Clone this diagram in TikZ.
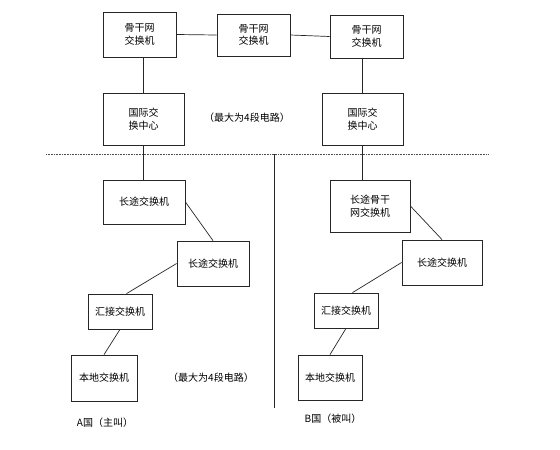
\documentclass[tikz,border=0pt]{standalone}
\usepackage{fontspec}
\newfontfamily\cjk{Noto Sans CJK SC}
\begin{document}
\begin{tikzpicture}[x=1pt,y=-1pt,
  box/.style={draw=black!85,line width=0.8pt,rectangle,align=center,inner sep=0pt,font=\cjk\fontsize{10}{12.5}\selectfont},
  conn/.style={draw=black!85,line width=0.7pt},
  lbl/.style={font=\cjk\fontsize{10}{12.5}\selectfont,inner sep=0pt}]
\useasboundingbox (0,0) rectangle (560,450);
% top backbone
\node[box,minimum width=73pt,minimum height=45pt] (b1) at (139.5,34.5) {骨干网\\交换机};
\node[box,minimum width=73pt,minimum height=42pt] (b2) at (253.5,35) {骨干网\\交换机};
\node[box,minimum width=73pt,minimum height=43pt] (b3) at (366.5,36.5) {骨干网\\交换机};
% international centres
\node[box,minimum width=81pt,minimum height=52pt] (ic1) at (143.5,119) {国际交\\换中心};
\node[box,minimum width=81pt,minimum height=52pt] (ic2) at (362.5,119) {国际交\\换中心};
\node[lbl] (t1) at (247,118) {（最大为4段电路）};
% separator lines
\coordinate (dl) at (46,154);
\coordinate (dr) at (489,154);
\draw[black!70,densely dotted,line width=0.6pt] (dl) -- (dr);
\coordinate (vt) at (274,154);
\coordinate (vb) at (274,408);
\draw[conn] (vt) -- (vb);
% country A
\node[box,minimum width=82pt,minimum height=44pt] (a1) at (144,202) {长途交换机};
\node[box,minimum width=72pt,minimum height=45pt] (a2) at (213,263.5) {长途交换机};
\node[box,minimum width=64pt,minimum height=35pt] (a3) at (120,311.5) {汇接交换机};
\node[box,minimum width=66pt,minimum height=46pt] (a4) at (104,378) {本地交换机};
\node[lbl] (t2) at (211,378) {（最大为4段电路）};
\node[lbl] (ta) at (105,423) {A国（主叫）};
% country B
\node[box,minimum width=80pt,minimum height=52pt] (c1) at (370,206) {长途骨干\\网交换机};
\node[box,minimum width=80pt,minimum height=45pt] (c2) at (442,262.5) {长途交换机};
\node[box,minimum width=64pt,minimum height=35pt] (c3) at (346,310.5) {汇接交换机};
\node[box,minimum width=64pt,minimum height=45pt] (c4) at (330,377.5) {本地交换机};
\node[lbl] (tb) at (333,419) {B国（被叫）};
% connectors
\draw[conn] (b1.east) -- (b2.west);
\draw[conn] (b2.east) -- (b3.west);
\draw[conn] (b1.south -| ic1.north) -- (ic1.north);
\draw[conn] (b3.south -| ic2.north) -- (ic2.north);
\draw[conn] (ic1.south) -- (a1.north -| ic1.south);
\draw[conn] (ic2.south) -- (c1.north -| ic2.south);
\draw[conn] (a1.east) -- (a2.north);
\draw[conn] (a2.west) -- (a3.70);
\draw[conn] (a3.south) -- (a4.north);
\draw[conn] (c1.east) -- (c2.north);
\draw[conn] (c2.west) -- (c3.70);
\draw[conn] (c3.south) -- (c4.north);
\end{tikzpicture}
\end{document}
